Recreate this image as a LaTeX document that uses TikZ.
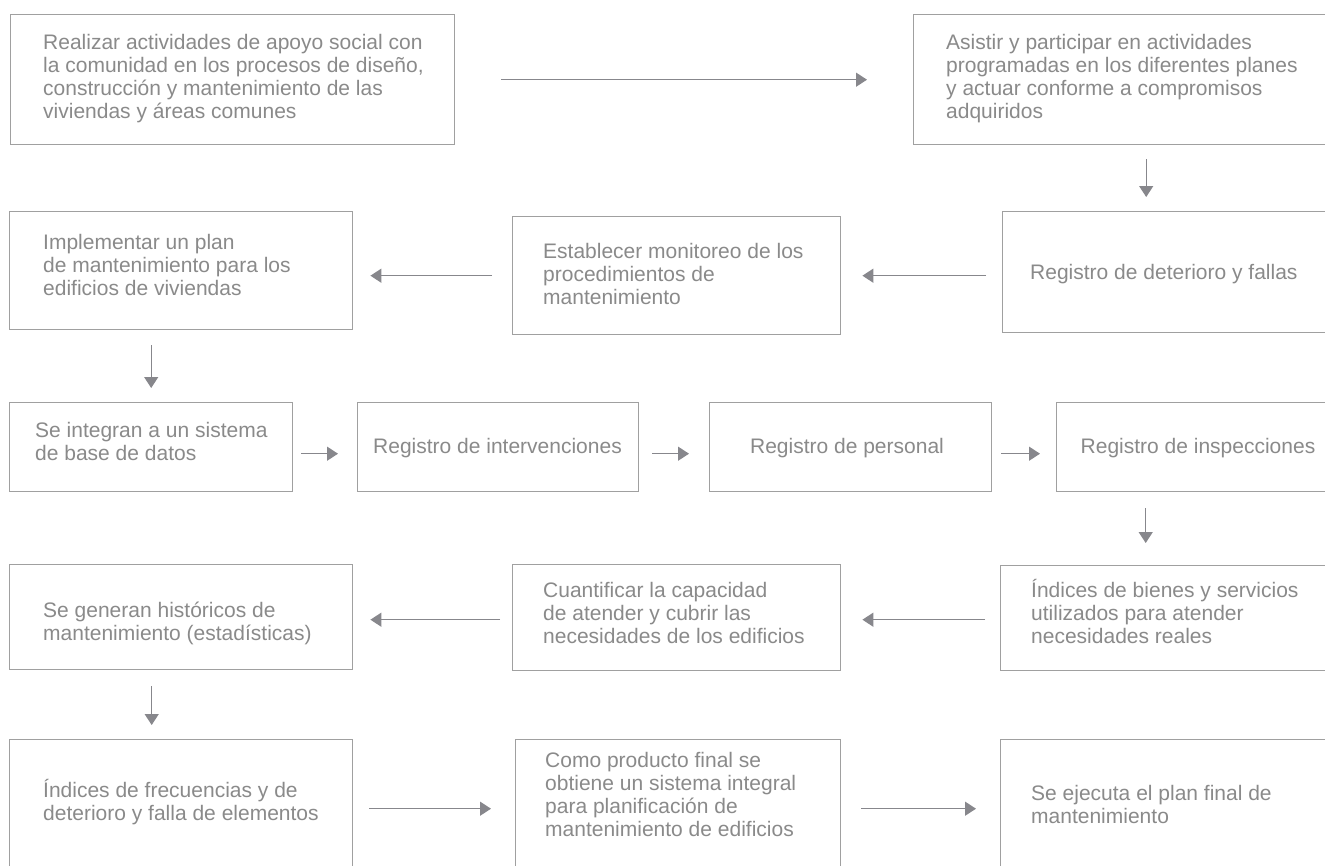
\documentclass[tikz,border=0pt]{standalone}
\usepackage{fontspec}
\setmainfont{Liberation Sans}
\usetikzlibrary{arrows.meta}
\definecolor{txtgray}{RGB}{138,138,138}
\definecolor{linegray}{RGB}{160,160,160}
\definecolor{arrgray}{RGB}{135,135,140}
\newcommand{\fst}{\rule{0pt}{22pt}}
\begin{document}
\begin{tikzpicture}[x=1pt,y=-1pt,
  box/.style={draw=linegray, line width=1.4pt, inner sep=0pt, anchor=north west},
  txt/.style={inner sep=0pt, text=txtgray, font=\fontsize{21}{23.2}\selectfont, align=left, anchor=north west},
  ctxt/.style={inner sep=0pt, text=txtgray, font=\fontsize{21}{23.2}\selectfont, anchor=base},
  arr/.style={draw=arrgray, line width=1.3pt, -{Triangle[length=11pt,width=14pt]}}]
\fill[white] (0,0) rectangle (1325,865);
\useasboundingbox (0,0) rectangle (1325,865);
\clip (0,0) rectangle (1325,865);

% boxes
\node[box, minimum width=444pt, minimum height=130pt] (A) at (10,14) {};
\node[box, minimum width=427pt, minimum height=130pt] (B) at (913,14) {};
\node[box, minimum width=343pt, minimum height=118pt] (C) at (9,211) {};
\node[box, minimum width=328pt, minimum height=118pt] (D) at (512,216) {};
\node[box, minimum width=338pt, minimum height=121pt] (E) at (1002,211) {};
\node[box, minimum width=283pt, minimum height=89pt] (F) at (9,402) {};
\node[box, minimum width=281pt, minimum height=89pt] (G) at (357,402) {};
\node[box, minimum width=282pt, minimum height=89pt] (H) at (709,402) {};
\node[box, minimum width=284pt, minimum height=89pt] (I) at (1056,402) {};
\node[box, minimum width=343pt, minimum height=105pt] (J) at (9,564) {};
\node[box, minimum width=328pt, minimum height=106pt] (K) at (512,564) {};
\node[box, minimum width=340pt, minimum height=105pt] (L) at (1000,565) {};
\node[box, minimum width=343pt, minimum height=138pt] (M) at (9,739) {};
\node[box, minimum width=325pt, minimum height=138pt] (N) at (515,739) {};
\node[box, minimum width=340pt, minimum height=138pt] (O) at (1000,739) {};

% texts
\node[txt] (At) at (43,27) {\fst Realizar actividades de apoyo social con\\la comunidad en los procesos de diseño,\\construcción y mantenimiento de las\\viviendas y áreas comunes};
\node[txt] (Bt) at (946,27) {\fst Asistir y participar en actividades\\programadas en los diferentes planes\\y actuar conforme a compromisos\\adquiridos};
\node[txt] (Ct) at (43,227) {\fst Implementar un plan\\de mantenimiento para los\\edificios de viviendas};
\node[txt] (Dt) at (543,236) {\fst Establecer monitoreo de los\\procedimientos de\\mantenimiento};
\node[txt] (Et) at (1030,257) {\fst Registro de deterioro y fallas};
\node[txt] (Ft) at (35,415) {\fst Se integran a un sistema\\de base de datos};
\node[ctxt] (Gt) at (497.5,453) {Registro de intervenciones};
\node[ctxt] (Ht) at (847,453) {Registro de personal};
\node[ctxt] (It) at (1198,453) {Registro de inspecciones};
\node[txt] (Jt) at (43,595) {\fst Se generan históricos de\\mantenimiento (estadísticas)};
\node[txt] (Kt) at (543,575) {\fst Cuantificar la capacidad\\de atender y cubrir las\\necesidades de los edificios};
\node[txt] (Lt) at (1031,575) {\fst Índices de bienes y servicios\\utilizados para atender\\necesidades reales};
\node[txt] (Mt) at (43,775) {\fst Índices de frecuencias y de\\deterioro y falla de elementos};
\node[txt] (Nt) at (545,745) {\fst Como producto final se\\obtiene un sistema integral\\para planificación de\\mantenimiento de edificios};
\node[txt] (Ot) at (1031,778) {\fst Se ejecuta el plan final de\\mantenimiento};

% connectors
\draw[arr, shorten <=46pt, shorten >=46pt] (A.east) -- (B.west);
\draw[arr, shorten <=14pt, shorten >=14pt] ([xshift=19pt]B.south) -- ([xshift=19pt]B.south |- E.north);
\draw[arr, shorten <=16pt, shorten >=21pt] (E.west |- D.east) -- (D.east);
\draw[arr, shorten <=20pt, shorten >=17pt] (D.west) -- (C.east |- D.west);
\draw[arr, shorten <=15pt, shorten >=14pt] (C.south -| F.north) -- (F.north);
\draw[arr, shorten <=8pt, shorten >=19pt] ([yshift=-6.5pt]F.east) -- ([yshift=-6.5pt]G.west);
\draw[arr, shorten <=13pt, shorten >=20pt] ([yshift=-6.5pt]G.east) -- ([yshift=-6.5pt]H.west);
\draw[arr, shorten <=9pt, shorten >=16pt] ([yshift=-6.5pt]H.east) -- ([yshift=-6.5pt]I.west);
\draw[arr, shorten <=16pt, shorten >=22pt] ([xshift=-53pt]I.south) -- ([xshift=-53pt]I.south |- L.north);
\draw[arr, shorten <=15pt, shorten >=21pt] ([yshift=-1.5pt]L.west) -- ([yshift=-2pt]K.east);
\draw[arr, shorten <=12pt, shorten >=17pt] ([yshift=-2pt]K.west) -- ([yshift=-2.5pt]J.east);
\draw[arr, shorten <=16pt, shorten >=14pt] ([xshift=-29.5pt]J.south) -- ([xshift=-29.5pt]J.south |- M.north);
\draw[arr, shorten <=16pt, shorten >=24pt] (M.east) -- (N.west);
\draw[arr, shorten <=20pt, shorten >=24pt] (N.east) -- (O.west);
\end{tikzpicture}
\end{document}
